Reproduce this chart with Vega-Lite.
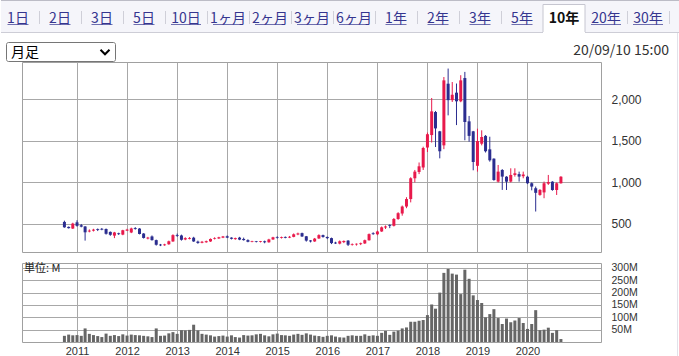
{
  "$schema": "https://vega.github.io/schema/vega-lite/v6.json",
  "padding": 0,
  "autosize": {"type": "pad"},
  "background": "white",
  "bounds": "flush",
  "spacing": 11,
  "config": {
    "view": {"stroke": "#a0a0a0"},
    "font": "Noto Sans CJK JP",
    "axis": {"gridColor": "#a8a8a8", "gridOpacity": 1, "labelFont": "Liberation Sans", "labelColor": "#333333", "ticks": false, "domain": false, "title": null, "labelFlush": false}
  },
  "datasets": {
    "tabs": [{"tab":"1日"},{"tab":"2日"},{"tab":"3日"},{"tab":"5日"},{"tab":"10日"},{"tab":"1ヶ月"},{"tab":"2ヶ月"},{"tab":"3ヶ月"},{"tab":"6ヶ月"},{"tab":"1年"},{"tab":"2年"},{"tab":"3年"},{"tab":"5年"},{"tab":"10年"},{"tab":"20年"},{"tab":"30年"}],
    "px": [
      {"d":"2010-10-01","o":525,"h":540,"l":455,"c":460,"v":25},
      {"d":"2010-11-01","o":465,"h":470,"l":445,"c":450,"v":30},
      {"d":"2010-12-01","o":445,"h":515,"l":440,"c":505,"v":27},
      {"d":"2011-01-01","o":520,"h":545,"l":468,"c":478,"v":28},
      {"d":"2011-02-01","o":485,"h":500,"l":460,"c":468,"v":25},
      {"d":"2011-03-01","o":470,"h":475,"l":300,"c":400,"v":55},
      {"d":"2011-04-01","o":410,"h":435,"l":400,"c":420,"v":33},
      {"d":"2011-05-01","o":420,"h":442,"l":410,"c":432,"v":28},
      {"d":"2011-06-01","o":438,"h":446,"l":415,"c":428,"v":24},
      {"d":"2011-07-01","o":442,"h":452,"l":425,"c":432,"v":20},
      {"d":"2011-08-01","o":440,"h":446,"l":372,"c":382,"v":34},
      {"d":"2011-09-01","o":405,"h":410,"l":358,"c":370,"v":25},
      {"d":"2011-10-01","o":360,"h":405,"l":330,"c":398,"v":28},
      {"d":"2011-11-01","o":388,"h":395,"l":368,"c":378,"v":24},
      {"d":"2011-12-01","o":372,"h":430,"l":365,"c":425,"v":31},
      {"d":"2012-01-01","o":420,"h":442,"l":415,"c":432,"v":26},
      {"d":"2012-02-01","o":398,"h":456,"l":390,"c":446,"v":30},
      {"d":"2012-03-01","o":450,"h":462,"l":432,"c":440,"v":28},
      {"d":"2012-04-01","o":445,"h":450,"l":375,"c":380,"v":27},
      {"d":"2012-05-01","o":385,"h":390,"l":325,"c":332,"v":25},
      {"d":"2012-06-01","o":325,"h":345,"l":315,"c":336,"v":23},
      {"d":"2012-07-01","o":350,"h":362,"l":300,"c":306,"v":20},
      {"d":"2012-08-01","o":306,"h":312,"l":240,"c":250,"v":55},
      {"d":"2012-09-01","o":252,"h":260,"l":234,"c":243,"v":25},
      {"d":"2012-10-01","o":244,"h":262,"l":238,"c":254,"v":26},
      {"d":"2012-11-01","o":256,"h":300,"l":250,"c":292,"v":35},
      {"d":"2012-12-01","o":290,"h":376,"l":285,"c":366,"v":40},
      {"d":"2013-01-01","o":368,"h":385,"l":345,"c":358,"v":33},
      {"d":"2013-02-01","o":362,"h":372,"l":300,"c":310,"v":48},
      {"d":"2013-03-01","o":314,"h":340,"l":305,"c":330,"v":47},
      {"d":"2013-04-01","o":322,"h":342,"l":315,"c":332,"v":49},
      {"d":"2013-05-01","o":335,"h":346,"l":285,"c":290,"v":70},
      {"d":"2013-06-01","o":288,"h":300,"l":262,"c":272,"v":47},
      {"d":"2013-07-01","o":274,"h":296,"l":268,"c":286,"v":33},
      {"d":"2013-08-01","o":280,"h":300,"l":275,"c":293,"v":30},
      {"d":"2013-09-01","o":290,"h":326,"l":285,"c":320,"v":27},
      {"d":"2013-10-01","o":322,"h":340,"l":314,"c":330,"v":22},
      {"d":"2013-11-01","o":326,"h":346,"l":320,"c":340,"v":24},
      {"d":"2013-12-01","o":336,"h":356,"l":330,"c":350,"v":26},
      {"d":"2014-01-01","o":352,"h":362,"l":330,"c":336,"v":22},
      {"d":"2014-02-01","o":336,"h":340,"l":314,"c":322,"v":27},
      {"d":"2014-03-01","o":318,"h":336,"l":310,"c":330,"v":20},
      {"d":"2014-04-01","o":336,"h":345,"l":305,"c":312,"v":18},
      {"d":"2014-05-01","o":320,"h":336,"l":300,"c":306,"v":28},
      {"d":"2014-06-01","o":306,"h":316,"l":280,"c":286,"v":26},
      {"d":"2014-07-01","o":284,"h":298,"l":280,"c":292,"v":27},
      {"d":"2014-08-01","o":292,"h":296,"l":278,"c":284,"v":31},
      {"d":"2014-09-01","o":283,"h":296,"l":278,"c":292,"v":33},
      {"d":"2014-10-01","o":292,"h":300,"l":268,"c":280,"v":27},
      {"d":"2014-11-01","o":280,"h":322,"l":275,"c":314,"v":23},
      {"d":"2014-12-01","o":314,"h":346,"l":308,"c":340,"v":31},
      {"d":"2015-01-01","o":340,"h":352,"l":324,"c":332,"v":34},
      {"d":"2015-02-01","o":333,"h":348,"l":325,"c":342,"v":28},
      {"d":"2015-03-01","o":344,"h":350,"l":328,"c":334,"v":27},
      {"d":"2015-04-01","o":336,"h":356,"l":330,"c":346,"v":25},
      {"d":"2015-05-01","o":345,"h":386,"l":340,"c":376,"v":30},
      {"d":"2015-06-01","o":374,"h":396,"l":365,"c":386,"v":33},
      {"d":"2015-07-01","o":390,"h":396,"l":344,"c":350,"v":29},
      {"d":"2015-08-01","o":352,"h":356,"l":288,"c":300,"v":35},
      {"d":"2015-09-01","o":302,"h":306,"l":278,"c":290,"v":30},
      {"d":"2015-10-01","o":290,"h":332,"l":285,"c":324,"v":26},
      {"d":"2015-11-01","o":326,"h":376,"l":320,"c":366,"v":24},
      {"d":"2015-12-01","o":366,"h":372,"l":335,"c":344,"v":21},
      {"d":"2016-01-01","o":344,"h":350,"l":318,"c":330,"v":25},
      {"d":"2016-02-01","o":330,"h":336,"l":258,"c":270,"v":27},
      {"d":"2016-03-01","o":276,"h":286,"l":260,"c":266,"v":22},
      {"d":"2016-04-01","o":264,"h":302,"l":255,"c":292,"v":19},
      {"d":"2016-05-01","o":282,"h":302,"l":270,"c":296,"v":18},
      {"d":"2016-06-01","o":300,"h":306,"l":235,"c":250,"v":25},
      {"d":"2016-07-01","o":250,"h":266,"l":240,"c":258,"v":27},
      {"d":"2016-08-01","o":254,"h":266,"l":240,"c":262,"v":25},
      {"d":"2016-09-01","o":258,"h":276,"l":246,"c":268,"v":25},
      {"d":"2016-10-01","o":266,"h":312,"l":260,"c":305,"v":31},
      {"d":"2016-11-01","o":304,"h":386,"l":300,"c":378,"v":25},
      {"d":"2016-12-01","o":388,"h":400,"l":370,"c":378,"v":27},
      {"d":"2017-01-01","o":376,"h":420,"l":365,"c":410,"v":25},
      {"d":"2017-02-01","o":410,"h":470,"l":405,"c":460,"v":37},
      {"d":"2017-03-01","o":458,"h":482,"l":440,"c":470,"v":45},
      {"d":"2017-04-01","o":486,"h":496,"l":450,"c":476,"v":29},
      {"d":"2017-05-01","o":478,"h":572,"l":470,"c":560,"v":42},
      {"d":"2017-06-01","o":560,"h":642,"l":550,"c":630,"v":46},
      {"d":"2017-07-01","o":626,"h":722,"l":600,"c":710,"v":55},
      {"d":"2017-08-01","o":710,"h":822,"l":690,"c":800,"v":59},
      {"d":"2017-09-01","o":800,"h":1062,"l":760,"c":1050,"v":82},
      {"d":"2017-10-01","o":1050,"h":1150,"l":1000,"c":1130,"v":82},
      {"d":"2017-11-01","o":1126,"h":1240,"l":1100,"c":1194,"v":86},
      {"d":"2017-12-01","o":1180,"h":1430,"l":1150,"c":1414,"v":89},
      {"d":"2018-01-01","o":1420,"h":1600,"l":1366,"c":1580,"v":109},
      {"d":"2018-02-01","o":1570,"h":2016,"l":1480,"c":1855,"v":152},
      {"d":"2018-03-01","o":1847,"h":1860,"l":1426,"c":1650,"v":135},
      {"d":"2018-04-01","o":1615,"h":1620,"l":1290,"c":1375,"v":200},
      {"d":"2018-05-01","o":1446,"h":2268,"l":1400,"c":2228,"v":280},
      {"d":"2018-06-01","o":2188,"h":2370,"l":1807,"c":1990,"v":296},
      {"d":"2018-07-01","o":1990,"h":2208,"l":1968,"c":2055,"v":277},
      {"d":"2018-08-01","o":2080,"h":2190,"l":1690,"c":1976,"v":273},
      {"d":"2018-09-01","o":1976,"h":2290,"l":1965,"c":2228,"v":194},
      {"d":"2018-10-01","o":2256,"h":2330,"l":1507,"c":1727,"v":293},
      {"d":"2018-11-01","o":1735,"h":1800,"l":1490,"c":1560,"v":256},
      {"d":"2018-12-01","o":1615,"h":1620,"l":1146,"c":1246,"v":189},
      {"d":"2019-01-01","o":1200,"h":1647,"l":1130,"c":1498,"v":170},
      {"d":"2019-02-01","o":1466,"h":1627,"l":1446,"c":1547,"v":158},
      {"d":"2019-03-01","o":1560,"h":1570,"l":1360,"c":1375,"v":100},
      {"d":"2019-04-01","o":1398,"h":1550,"l":1250,"c":1266,"v":113},
      {"d":"2019-05-01","o":1286,"h":1290,"l":1020,"c":1029,"v":133},
      {"d":"2019-06-01","o":1010,"h":1210,"l":1000,"c":1130,"v":97},
      {"d":"2019-07-01","o":1150,"h":1160,"l":910,"c":1070,"v":73},
      {"d":"2019-08-01","o":1069,"h":1075,"l":909,"c":1009,"v":95},
      {"d":"2019-09-01","o":1010,"h":1170,"l":1000,"c":1090,"v":80},
      {"d":"2019-10-01","o":1090,"h":1170,"l":1070,"c":1110,"v":87},
      {"d":"2019-11-01","o":1100,"h":1130,"l":1010,"c":1070,"v":97},
      {"d":"2019-12-01","o":1075,"h":1130,"l":1050,"c":1095,"v":77},
      {"d":"2020-01-01","o":1069,"h":1080,"l":980,"c":990,"v":53},
      {"d":"2020-02-01","o":990,"h":1000,"l":905,"c":950,"v":73},
      {"d":"2020-03-01","o":930,"h":950,"l":650,"c":875,"v":129},
      {"d":"2020-04-01","o":850,"h":920,"l":840,"c":910,"v":48},
      {"d":"2020-05-01","o":880,"h":1010,"l":810,"c":990,"v":50},
      {"d":"2020-06-01","o":985,"h":1090,"l":970,"c":1005,"v":58},
      {"d":"2020-07-01","o":1009,"h":1015,"l":900,"c":909,"v":37},
      {"d":"2020-08-01","o":909,"h":1000,"l":849,"c":990,"v":48},
      {"d":"2020-09-01","o":990,"h":1075,"l":985,"c":1069,"v":12}
    ]
  },
  "vconcat": [
    {
      "width": 579,
      "height": 51,
      "view": {"stroke": null},
      "data": {"name": "tabs"},
      "encoding": {
        "x": {"field": "tab", "type": "nominal", "sort": null, "axis": null,
              "scale": {"type": "band", "domain": ["1日","2日","3日","5日","10日","1ヶ月","2ヶ月","3ヶ月","6ヶ月","1年","2年","3年","5年","10年","20年","30年"], "range": [-25, 647], "paddingInner": 0, "paddingOuter": 0}}
      },
      "layer": [
        {"data": {"values": [{}]}, "mark": {"type": "rect", "fill": "#f5f5fa"},
         "encoding": {"x": {"value": -21}, "x2": {"value": 658}, "y": {"value": 0}, "y2": {"value": 32}}},
        {"data": {"values": [{}]}, "mark": {"type": "rule", "stroke": "#bcbcc6", "strokeWidth": 1},
         "encoding": {"x": {"value": -21}, "x2": {"value": 658}, "y": {"value": 0.5}}},
        {"data": {"values": [{}]}, "mark": {"type": "rule", "stroke": "#cdcdd6", "strokeWidth": 1},
         "encoding": {"x": {"value": -21}, "x2": {"value": 658}, "y": {"value": 32.5}}},
        {"data": {"values": [{}]}, "mark": {"type": "rule", "stroke": "#e2e2ea", "strokeWidth": 1},
         "encoding": {"x": {"value": 655.5}, "y": {"value": 33}, "y2": {"value": 356}}},
        {"transform": [{"filter": "datum.tab === '10年'"}],
         "mark": {"type": "rect", "fill": "white", "stroke": "#c6c6d0", "strokeWidth": 1},
         "encoding": {"y": {"value": 4.5}, "y2": {"value": 32.5}}},
        {"transform": [{"filter": "datum.tab === '10年'"}],
         "mark": {"type": "rect", "fill": "white"},
         "encoding": {"y": {"value": 32}, "y2": {"value": 34}}},
        {"transform": [{"filter": "datum.tab !== '5年' && datum.tab !== '10年'"}],
         "mark": {"type": "rule", "stroke": "#cfcfd8", "strokeWidth": 1, "xOffset": 0.5},
         "encoding": {"x": {"field": "tab", "type": "nominal", "bandPosition": 1}, "y": {"value": 11}, "y2": {"value": 24}}},
        {"transform": [{"filter": "datum.tab !== '10年'"}],
         "mark": {"type": "text", "fontSize": 14, "baseline": "alphabetic", "align": "center", "color": "#35358f"},
         "encoding": {"text": {"field": "tab"}, "y": {"value": 23}}},
        {"transform": [{"filter": "datum.tab !== '10年'"}],
         "mark": {"type": "tick", "orient": "horizontal", "thickness": 1, "color": "#35358f"},
         "encoding": {"y": {"value": 24.5}, "size": {"condition": {"test": "length(datum.tab) > 2", "value": 30}, "value": 21}}},
        {"transform": [{"filter": "datum.tab === '10年'"}],
         "mark": {"type": "text", "fontSize": 14, "fontWeight": "bold", "baseline": "alphabetic", "align": "center", "color": "#111111"},
         "encoding": {"text": {"field": "tab"}, "y": {"value": 23}}},
        {"data": {"values": [{"label": "月足"}]},
         "mark": {"type": "rect", "fill": "white", "stroke": "#767676", "strokeWidth": 1, "cornerRadius": 2},
         "encoding": {"x": {"value": -15.5}, "x2": {"value": 93.5}, "y": {"value": 42.5}, "y2": {"value": 61.5}}},
        {"data": {"values": [{"label": "月足"}]},
         "mark": {"type": "text", "fontSize": 14, "baseline": "alphabetic", "align": "left", "color": "#000000"},
         "encoding": {"text": {"field": "label"}, "x": {"value": -11}, "y": {"value": 57}}},
        {"data": {"values": [{"label": "月足"}]},
         "mark": {"type": "point", "shape": "M-1,-0.5L0,0.5L1,-0.5", "filled": false, "stroke": "#000000", "strokeWidth": 2, "size": 81, "opacity": 1},
         "encoding": {"x": {"value": 83}, "y": {"value": 52}}},
        {"data": {"values": [{"label": "20/09/10 15:00"}]},
         "mark": {"type": "text", "fontSize": 14, "baseline": "alphabetic", "align": "right", "color": "#333333"},
         "encoding": {"text": {"field": "label"}, "x": {"value": 647}, "y": {"value": 55}}}
      ]
    },
    {
      "width": 579,
      "height": 190,
      "data": {"name": "px"},
      "encoding": {
        "x": {"field": "d", "type": "temporal",
              "scale": {"type": "utc", "domain": [{"year": 2010, "month": 1, "date": 1, "utc": true}, {"year": 2021, "month": 5, "date": 15, "utc": true}]},
              "axis": {"grid": true, "labels": false, "values": [{"year": 2011, "utc": true},{"year": 2012, "utc": true},{"year": 2013, "utc": true},{"year": 2014, "utc": true},{"year": 2015, "utc": true},{"year": 2016, "utc": true},{"year": 2017, "utc": true},{"year": 2018, "utc": true},{"year": 2019, "utc": true},{"year": 2020, "utc": true}]}},
        "color": {"condition": {"test": "datum.c >= datum.o", "value": "#e8194b"}, "value": "#2b2d8f"}
      },
      "layer": [
        {"mark": {"type": "rule", "strokeWidth": 1},
         "encoding": {
           "y": {"field": "l", "type": "quantitative",
                 "scale": {"domain": [163, 2449], "nice": false, "zero": false},
                 "axis": {"orient": "right", "values": [500, 1000, 1500, 2000], "labelExpr": "format(datum.value, ',')", "grid": true, "labelPadding": 10, "labelFontSize": 12, "labelBaseline": "middle"}},
           "y2": {"field": "h"}}},
        {"mark": {"type": "bar", "width": 3},
         "encoding": {"y": {"field": "o", "type": "quantitative"}, "y2": {"field": "c"}}}
      ]
    },
    {
      "width": 579,
      "height": 79,
      "data": {"name": "px"},
      "layer": [
        {"mark": {"type": "bar", "width": 3, "color": "#666666"},
         "encoding": {
           "x": {"field": "d", "type": "temporal",
                 "scale": {"type": "utc", "domain": [{"year": 2010, "month": 1, "date": 1, "utc": true}, {"year": 2021, "month": 5, "date": 15, "utc": true}]},
                 "axis": {"grid": true, "format": "%Y", "formatType": "utc", "labelPadding": 3, "labelFontSize": 11, "values": [{"year": 2011, "utc": true},{"year": 2012, "utc": true},{"year": 2013, "utc": true},{"year": 2014, "utc": true},{"year": 2015, "utc": true},{"year": 2016, "utc": true},{"year": 2017, "utc": true},{"year": 2018, "utc": true},{"year": 2019, "utc": true},{"year": 2020, "utc": true}]}},
           "y": {"field": "v", "type": "quantitative",
                 "scale": {"domain": [0, 320], "nice": false},
                 "axis": {"orient": "right", "values": [50, 100, 150, 200, 250, 300], "labelExpr": "datum.value + 'M'", "grid": true, "labelPadding": 10, "labelFontSize": 10.5, "labelBaseline": "middle"}}}},
        {"data": {"values": [{"label": "単位: M"}]},
         "mark": {"type": "text", "fontSize": 11, "baseline": "middle", "align": "left", "color": "#222222"},
         "encoding": {"text": {"field": "label"}, "x": {"value": 2}, "y": {"value": 5.5}}}
      ]
    }
  ]
}
